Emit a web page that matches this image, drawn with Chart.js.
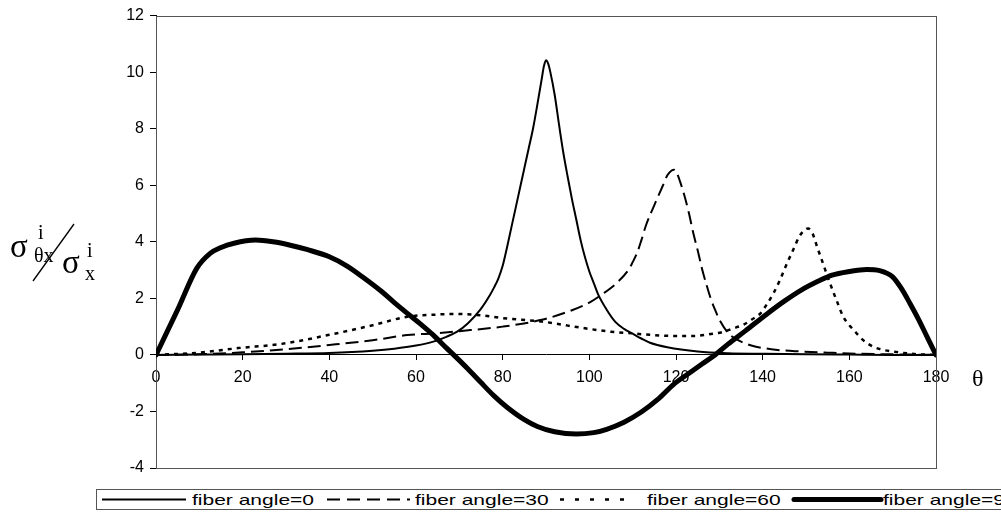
<!DOCTYPE html>
<html>
<head>
<meta charset="utf-8">
<script src="https://cdn.jsdelivr.net/npm/chart.js@4/dist/chart.umd.min.js"></script>
<style>
  html, body { margin: 0; padding: 0; background: #fff; overflow: hidden; }
  #wrap { position: relative; width: 1001px; height: 523px; overflow: hidden; }
  #c { position: absolute; left: 0; top: 0; }
  .ser { position: absolute; font-family: "Liberation Serif", "DejaVu Serif", serif; line-height: 1; color: #000; white-space: nowrap; }
  #legend { position: absolute; left: 96px; top: 489px; width: 960px; height: 21px; border: 1px solid #555; box-sizing: border-box; background: #fff; }
  .lt { position: absolute; top: 1px; font-family: "Liberation Sans", Arial, sans-serif; font-size: 15px; line-height: 17px; transform-origin: 0 50%; transform: scaleX(1.4); white-space: nowrap; color: #000; }
  .ls { position: absolute; top: 0; }
</style>
</head>
<body>
<div id="wrap">
  <canvas id="c" width="1001" height="523"></canvas>

  <!-- y axis title: sigma^i_{theta x} / sigma^i_x -->
  <div class="ser" style="left:10px; top:230px; font-size:33px;">σ</div>
  <div class="ser" style="left:38px; top:222px; font-size:20px;">i</div>
  <div class="ser" style="left:34px; top:245px; font-size:20px;">θx</div>
  <svg style="position:absolute; left:0; top:0;" width="120" height="300"><line x1="33" y1="281" x2="74" y2="224" stroke="#000" stroke-width="1.3"/></svg>
  <div class="ser" style="left:62px; top:246px; font-size:33px;">σ</div>
  <div class="ser" style="left:87px; top:240px; font-size:20px;">i</div>
  <div class="ser" style="left:85px; top:263px; font-size:20px;">x</div>

  <!-- x axis title -->
  <div class="ser" style="left:972px; top:366px; font-size:24px;">θ</div>

  <div id="legend"></div>
</div>
<script>
// ---- data ----
const xTicks = [0, 20, 40, 60, 80, 100, 120, 140, 160, 180];
const yTicks = [-4, -2, 0, 2, 4, 6, 8, 10, 12];
const seriesNames = ["fiber angle=0", "fiber angle=30", "fiber angle=60", "fiber angle=90"];

const theta0 = [0,10,20,30,40,50,55,60,64,67,69.5,72,74.8,77,78,79,80,81,82,83,84,85,86,87,88,89,89.5,90,90.5,91,92,93,94,95,96,97,98,99,100,101,102,104,106,108,110,112,114,118,125,132,140,150,160,170,180];
const angle0 = [0,0.01,0.02,0.04,0.07,0.15,0.22,0.33,0.47,0.64,0.82,1.12,1.59,2.1,2.38,2.7,3.15,3.8,4.5,5.2,5.9,6.6,7.3,8.0,8.85,9.75,10.2,10.42,10.3,10.0,9.2,8.15,7.15,6.3,5.5,4.78,4.05,3.45,2.95,2.55,2.15,1.6,1.17,0.92,0.75,0.58,0.43,0.27,0.12,0.06,0.04,0.02,0.01,0.0,0];

const theta30 = [0,10,20,30,40,50,58,65,70,80,89,96,100,103,106,109,110,111,112,113,115,117,118,119,119.5,120,121,122,123,124,125,126,127,128,129,130,132,134,137,142,149,155,160,170,180];
const angle30 = [0,0.02,0.09,0.2,0.35,0.52,0.7,0.77,0.84,1.0,1.24,1.58,1.85,2.15,2.5,3.0,3.28,3.6,4.05,4.55,5.3,6.0,6.35,6.52,6.55,6.5,6.1,5.6,5.0,4.3,3.7,3.05,2.5,2.0,1.6,1.25,0.78,0.55,0.35,0.2,0.12,0.08,0.05,0.02,0];

const theta60 = [0,10,19,29,40,50,58,64,69,75,80,89,99,105,110,114,120,124,128,131,133,135.5,137.5,139.5,141,142.5,144,145.5,147,148.5,150,150.5,151.5,152.5,154,155.5,157,158.6,160,161,163,165.5,168,170,175,180];
const angle60 = [0,0.08,0.24,0.39,0.71,1.05,1.35,1.42,1.45,1.4,1.3,1.18,0.94,0.82,0.76,0.71,0.67,0.67,0.74,0.82,0.93,1.06,1.25,1.47,1.8,2.18,2.65,3.2,3.7,4.2,4.45,4.47,4.3,3.85,3.2,2.55,1.95,1.35,1.05,0.88,0.55,0.29,0.17,0.12,0.03,0];

const theta90 = [0,5,9.4,12.5,15,18,23,27,31,35,40,44,48,52,55,58,61,64,67,68.7,72,75,78,81,85,88,92,97,101,104,108,112,116,119.4,123,126,129,132,136,141,145,149,153,156,160,164,167,170,172,174,176,178,180];
const angle90 = [0,1.6,3.06,3.59,3.8,3.95,4.06,4.0,3.88,3.72,3.47,3.15,2.72,2.25,1.85,1.47,1.1,0.7,0.25,0,-0.5,-0.98,-1.45,-1.85,-2.29,-2.53,-2.72,-2.8,-2.75,-2.63,-2.38,-2.02,-1.55,-1.05,-0.65,-0.32,0,0.38,0.85,1.45,1.9,2.3,2.62,2.82,2.95,3.02,2.98,2.76,2.35,1.82,1.25,0.62,0];

// ---- styles ----
const styles = [
  { width: 2, dash: [] },
  { width: 2, dash: [13, 6] },
  { width: 2.5, dash: [4, 5] },
  { width: 5, dash: [] }
];
const pairs = (xs, ys) => xs.map((x, i) => ({ x: x, y: ys[i] }));
const seriesData = [pairs(theta0, angle0), pairs(theta30, angle30), pairs(theta60, angle60), pairs(theta90, angle90)];

const datasets = seriesNames.map((name, i) => ({
  label: name,
  data: seriesData[i],
  borderColor: '#000',
  backgroundColor: '#000',
  borderWidth: styles[i].width,
  borderDash: styles[i].dash,
  borderCapStyle: i === 3 ? 'round' : 'butt',
  borderJoinStyle: 'round',
  pointRadius: 0,
  pointHoverRadius: 0,
  fill: false,
  cubicInterpolationMode: 'monotone'
}));

const framePlugin = {
  id: 'frame',
  beforeDatasetsDraw(chart) {
    const a = chart.chartArea, ctx = chart.ctx;
    ctx.save();
    ctx.strokeStyle = '#555';
    ctx.lineWidth = 1;
    ctx.strokeRect(Math.round(a.left) + 0.5, Math.round(a.top) + 0.5, Math.round(a.right - a.left), Math.round(a.bottom - a.top));
    ctx.restore();
  }
};

new Chart(document.getElementById('c'), {
  type: 'line',
  data: { datasets: datasets },
  plugins: [framePlugin],
  options: {
    responsive: false,
    animation: false,
    devicePixelRatio: 1,
    layout: { padding: { left: 0, right: 65, top: 15, bottom: 55 } },
    plugins: { legend: { display: false }, tooltip: { enabled: false } },
    scales: {
      x: {
        type: 'linear',
        min: 0, max: 180,
        position: { y: 0 },
        afterBuildTicks: (s) => { s.ticks = xTicks.map(v => ({ value: v })); },
        ticks: { color: '#000', font: { family: '"Liberation Sans", Arial, sans-serif', size: 16 }, padding: 8, maxRotation: 0, autoSkip: false },
        grid: { drawOnChartArea: false, drawTicks: true, tickLength: 5, color: '#000' },
        border: { display: true, color: '#000', width: 1 }
      },
      y: {
        type: 'linear',
        min: -4, max: 12,
        afterBuildTicks: (s) => { s.ticks = yTicks.map(v => ({ value: v })); },
        afterFit: (s) => { s.width = 156; },
        ticks: { color: '#000', font: { family: '"Liberation Sans", Arial, sans-serif', size: 16 }, padding: 6, autoSkip: false },
        grid: { drawOnChartArea: false, drawTicks: true, tickLength: 6, color: '#000' },
        border: { display: true, color: '#000', width: 1 }
      }
    }
  }
});

// ---- legend (HTML, real text) ----
const legendItems = [
  { sx: 102, ex: 186, tx: 192 },
  { sx: 327, ex: 410, tx: 415 },
  { sx: 560, ex: 634, tx: 647 },
  { sx: 794, ex: 881, tx: 883 }
];
const leg = document.getElementById('legend');
const left0 = 97;
legendItems.forEach((it, i) => {
  const svgNS = 'http://www.w3.org/2000/svg';
  const svg = document.createElementNS(svgNS, 'svg');
  svg.setAttribute('class', 'ls');
  svg.setAttribute('width', String(it.ex - it.sx + 6));
  svg.setAttribute('height', '19');
  svg.style.left = (it.sx - left0 - 3) + 'px';
  const ln = document.createElementNS(svgNS, 'line');
  ln.setAttribute('x1', '3'); ln.setAttribute('x2', String(it.ex - it.sx + 3));
  ln.setAttribute('y1', '9.5'); ln.setAttribute('y2', '9.5');
  ln.setAttribute('stroke', '#000');
  ln.setAttribute('stroke-width', String(styles[i].width));
  if (i === 1) ln.setAttribute('stroke-dasharray', '13 7');
  if (i === 2) ln.setAttribute('stroke-dasharray', '4 11');
  if (i === 3) ln.setAttribute('stroke-linecap', 'round');
  svg.appendChild(ln);
  leg.appendChild(svg);
  const t = document.createElement('div');
  t.className = 'lt';
  t.style.left = (it.tx - left0) + 'px';
  t.textContent = seriesNames[i];
  leg.appendChild(t);
});
</script>
</body>
</html>
